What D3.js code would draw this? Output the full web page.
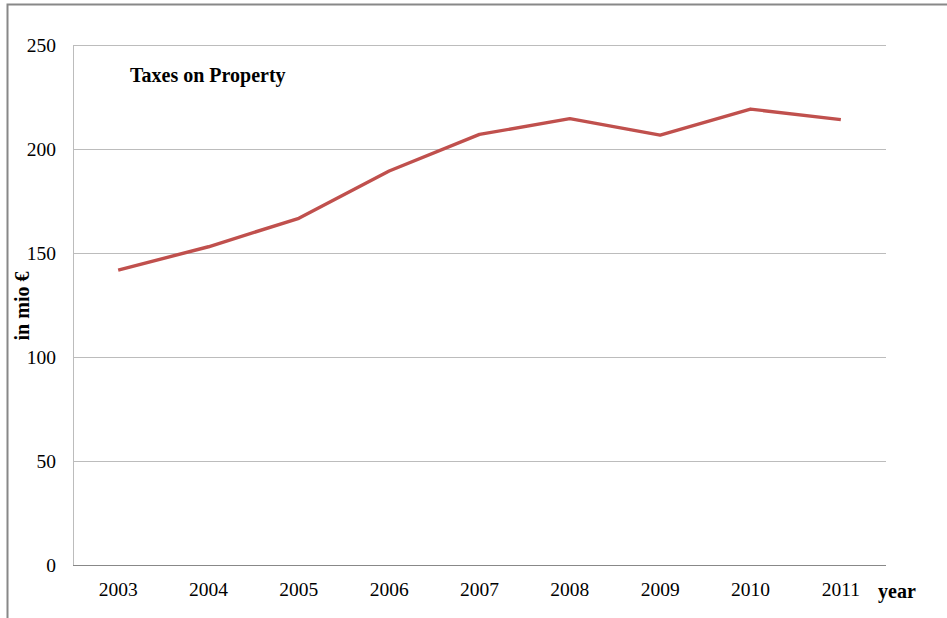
<!DOCTYPE html>
<html>
<head>
<meta charset="utf-8">
<script src="https://cdn.jsdelivr.net/npm/d3@7"></script>
<style>
  body { margin: 0; background: #fff; }
  svg { display: block; font-family: "Liberation Serif", "Times New Roman", serif; }
</style>
</head>
<body>
<svg id="chart" width="947" height="618"></svg>
<script>
const years = ['2003', '2004', '2005', '2006', '2007', '2008', '2009', '2010', '2011'];
const taxes = [141.8, 153, 166.7, 189.4, 207, 214.6, 206.7, 219.2, 214.1];
const yTicks = [0, 50, 100, 150, 200, 250];

const width = 947;
const height = 618;
const margin = { top: 45, right: 61, bottom: 53, left: 73 };

const svg = d3.select('#chart');

// outer frame (top and left only visible)
svg.append('path')
  .attr('d', `M7.5,${height} V4.5 H${width}`)
  .attr('fill', 'none')
  .attr('stroke', '#888')
  .attr('stroke-width', 2);

const x = d3.scaleBand()
  .domain(years)
  .range([margin.left, width - margin.right]);

const y = d3.scaleLinear()
  .domain([0, 250])
  .range([height - margin.bottom, margin.top]);

// gridlines
svg.append('g')
  .selectAll('line')
  .data(yTicks.filter(d => d > 0))
  .join('line')
  .attr('x1', margin.left)
  .attr('x2', width - margin.right)
  .attr('y1', d => Math.round(y(d)) + 0.5)
  .attr('y2', d => Math.round(y(d)) + 0.5)
  .attr('stroke', '#bcbcbc')
  .attr('stroke-width', 1);

// y axis line
svg.append('line')
  .attr('x1', margin.left + 0.5)
  .attr('x2', margin.left + 0.5)
  .attr('y1', y(250))
  .attr('y2', y(0))
  .attr('stroke', '#bcbcbc');

// baseline
svg.append('line')
  .attr('x1', margin.left)
  .attr('x2', width - margin.right)
  .attr('y1', Math.round(y(0)) + 0.5)
  .attr('y2', Math.round(y(0)) + 0.5)
  .attr('stroke', '#888');

// y tick labels
svg.append('g')
  .selectAll('text')
  .data(yTicks)
  .join('text')
  .attr('x', 56)
  .attr('y', d => y(d) + 6.5)
  .attr('text-anchor', 'end')
  .attr('font-size', 19.5)
  .text(d => d);

// x tick labels
svg.append('g')
  .selectAll('text')
  .data(years)
  .join('text')
  .attr('x', d => x(d) + x.bandwidth() / 2)
  .attr('y', 596)
  .attr('text-anchor', 'middle')
  .attr('font-size', 19.5)
  .text(d => d);

// the line
const line = d3.line()
  .x((d, i) => x(years[i]) + x.bandwidth() / 2)
  .y(d => y(d));

svg.append('path')
  .datum(taxes)
  .attr('d', line)
  .attr('fill', 'none')
  .attr('stroke', '#c0504d')
  .attr('stroke-width', 3.4)
  .attr('stroke-linejoin', 'round');

// title and axis titles
svg.append('text')
  .attr('x', 130)
  .attr('y', 82)
  .attr('font-size', 20)
  .attr('font-weight', 'bold')
  .text('Taxes on Property');

svg.append('text')
  .attr('x', 878)
  .attr('y', 598)
  .attr('font-size', 20)
  .attr('font-weight', 'bold')
  .text('year');

svg.append('text')
  .attr('transform', 'translate(29,306) rotate(-90)')
  .attr('text-anchor', 'middle')
  .attr('font-size', 20)
  .attr('font-weight', 'bold')
  .text('in mio €');
</script>
</body>
</html>
